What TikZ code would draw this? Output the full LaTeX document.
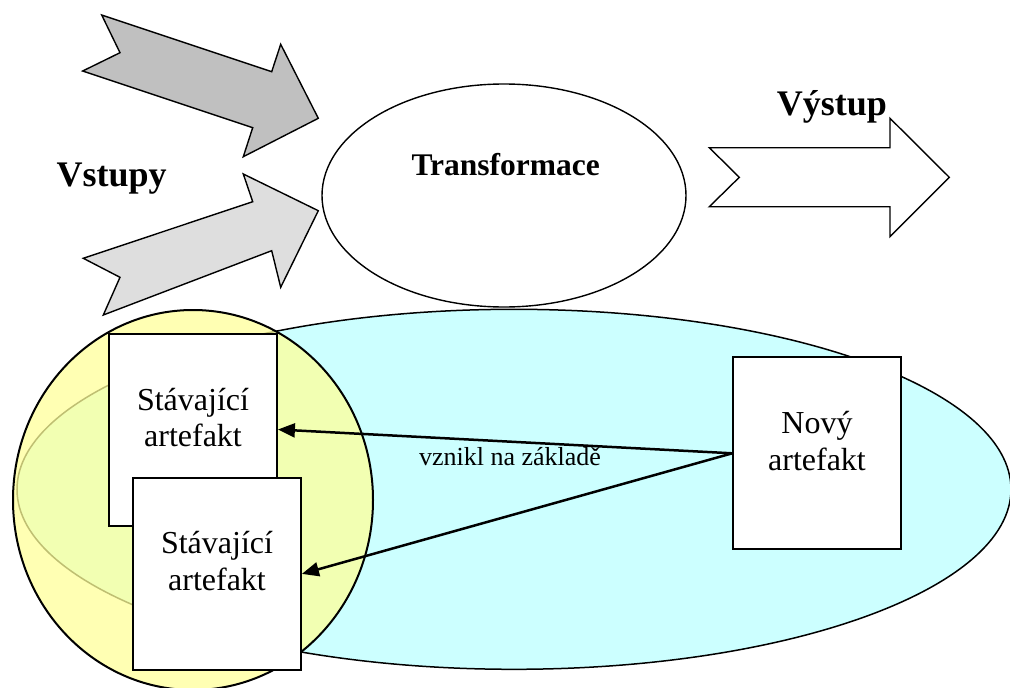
\documentclass[tikz,border=0pt]{standalone}
\usepackage{fontspec}
\setmainfont{Liberation Serif}
\usetikzlibrary{arrows.meta}
\definecolor{skycyan}{HTML}{CCFFFF}
\definecolor{paleyellow}{HTML}{FFFF99}
\definecolor{greydark}{HTML}{C0C0C0}
\definecolor{greylight}{HTML}{DEDEDE}
\begin{document}
\begin{tikzpicture}[x=1pt,y=-1pt,
  blockarrow/.style={draw=black, line width=1.4pt, line join=miter},
  artbox/.style={draw=black, line width=2pt, fill=white,
    minimum width=168pt, minimum height=192pt, inner sep=0pt},
  boxtext/.style={anchor=base, inner sep=0pt,
    font=\fontsize{32}{36.7}\selectfont},
  bigtitle/.style={anchor=base, inner sep=0pt,
    font=\fontsize{36}{43}\selectfont\bfseries},
  link/.style={line width=2.5pt, -{Triangle[length=17pt,width=14pt]}}
]
\useasboundingbox (0,0) rectangle (1010,688);

% input arrows
\path[blockarrow, fill=greydark]
  (101.7,15) -- (271.7,71.7) -- (280.7,44.3) -- (318.3,118.3)
  -- (243.3,156.7) -- (252.7,127.7) -- (82.7,71) -- (120,52.7) -- cycle;
\path[blockarrow, fill=greylight]
  (83.3,258.3) -- (252.7,201.7) -- (243.3,174) -- (318.3,210.7)
  -- (280.7,287.3) -- (271.7,250.7) -- (103.3,315) -- (120,277.3) -- cycle;

% transformation
\draw[line width=1.4pt] (504,195.5) ellipse [x radius=182, y radius=111.5];
\node[bigtitle, font=\fontsize{31.5}{38}\selectfont\bfseries] (trans) at (505.7,175) {Transformace};
\node[bigtitle] (vstupy) at (111.7,186.7) {Vstupy};

% output arrow
\path[blockarrow, fill=white]
  (709.3,147.7) -- (890,147.7) -- (890,118.3) -- (949.3,177.3)
  -- (890,236.7) -- (890,206.7) -- (709.3,206.7) -- (739.3,177.3) -- cycle;
\node[bigtitle] (vystup) at (832,115) {Výstup};

% artefact space and the set of existing artefacts
\draw[line width=1.5pt, fill=skycyan] (514,489.3) ellipse [x radius=497, y radius=180];
\fill[paleyellow, fill opacity=0.75] (193,500) ellipse [x radius=180, y radius=190];
\draw[line width=2pt] (193,500) ellipse [x radius=180, y radius=190];

% artefacts
\node[artbox] (s1) at (192.9,429.5) {};
\node[boxtext] (s1t) at (193,410) {\begin{tabular}[t]{@{}c@{}}Stávající\\artefakt\end{tabular}};
\node[artbox] (s2) at (216.9,573.9) {};
\node[boxtext] (s2t) at (217,553.3) {\begin{tabular}[t]{@{}c@{}}Stávající\\artefakt\end{tabular}};
\node[artbox] (n) at (817.2,453.3) {};
\node[boxtext] (nt) at (817,433.3) {\begin{tabular}[t]{@{}c@{}}Nový\\artefakt\end{tabular}};

% derivation links
\draw[link] (n.west) -- (s1.east);
\draw[link] (n.west) -- (s2.east);
\node[anchor=base, inner sep=0pt, font=\fontsize{26}{32}\selectfont] (basis) at (510,465.5) {vznikl na základě};
\end{tikzpicture}
\end{document}
